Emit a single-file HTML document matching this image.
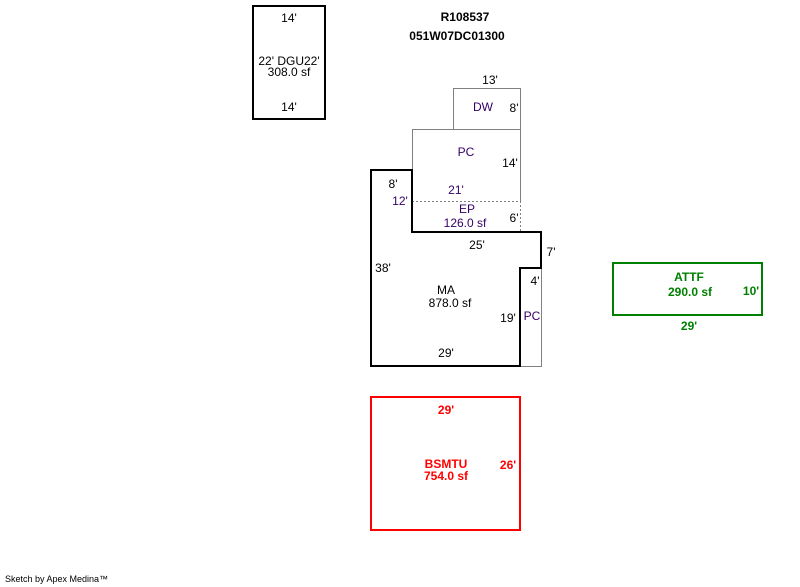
<!DOCTYPE html>
<html><head><meta charset="utf-8"><style>
body{margin:0;background:#fff}
svg{display:block}
text{font-family:"Liberation Sans",Arial,sans-serif;font-size:12px}
.d{fill:#330066}
.b{font-weight:bold}
</style></head><body>
<svg width="800" height="587" viewBox="0 0 800 587">
<g fill="none">
<rect x="253" y="6" width="72" height="113" stroke="#000" stroke-width="2"/>
<polyline points="453.5,129 453.5,88.5 520.5,88.5 520.5,201" stroke="#808080"/>
<polyline points="412.5,170 412.5,129.5 520.5,129.5" stroke="#808080"/>
<line x1="412" y1="201.5" x2="520" y2="201.5" stroke="#808080" stroke-dasharray="2,2"/>
<line x1="520.5" y1="201" x2="520.5" y2="232" stroke="#808080" stroke-dasharray="2,2"/>
<polyline points="520,268.5 541.5,268.5 541.5,366.5 520,366.5" stroke="#808080"/>
<polygon points="371,170 412,170 412,232 541,232 541,268 520,268 520,366 371,366" stroke="#000" stroke-width="2"/>
<rect x="613" y="263" width="149" height="52" stroke="#008000" stroke-width="2"/>
<rect x="371" y="397" width="149" height="133" stroke="#f00" stroke-width="2"/>
</g>
<g text-anchor="middle">
<text x="289" y="22">14'</text>
<text x="289" y="65">22' DGU22'</text>
<text x="289" y="76">308.0 sf</text>
<text x="289" y="111">14'</text>
<text x="465" y="21" class="b">R108537</text>
<text x="457" y="40" class="b">051W07DC01300</text>
<text x="490" y="84">13'</text>
<text x="483" y="111" class="d">DW</text>
<text x="514" y="112">8'</text>
<text x="466" y="156" class="d">PC</text>
<text x="510" y="167">14'</text>
<text x="393" y="188">8'</text>
<text x="456" y="194" class="d">21'</text>
<text x="400" y="205" class="d">12'</text>
<text x="467" y="213" class="d">EP</text>
<text x="465" y="227" class="d">126.0 sf</text>
<text x="514" y="222">6'</text>
<text x="477" y="249">25'</text>
<text x="551" y="256">7'</text>
<text x="383" y="272">38'</text>
<text x="535" y="285">4'</text>
<text x="446" y="294">MA</text>
<text x="450" y="307">878.0 sf</text>
<text x="508" y="322">19'</text>
<text x="532" y="320" class="d">PC</text>
<text x="446" y="357">29'</text>
<text x="689" y="281" class="b" fill="#008000">ATTF</text>
<text x="690" y="296" class="b" fill="#008000">290.0 sf</text>
<text x="751" y="295" class="b" fill="#008000">10'</text>
<text x="689" y="330" class="b" fill="#008000">29'</text>
<text x="446" y="414" class="b" fill="#f00">29'</text>
<text x="446" y="468" class="b" fill="#f00">BSMTU</text>
<text x="446" y="480" class="b" fill="#f00">754.0 sf</text>
<text x="508" y="469" class="b" fill="#f00">26'</text>
</g>
<text x="5" y="582" style="font-size:9px">Sketch by Apex Medina™</text>
</svg>
</body></html>
